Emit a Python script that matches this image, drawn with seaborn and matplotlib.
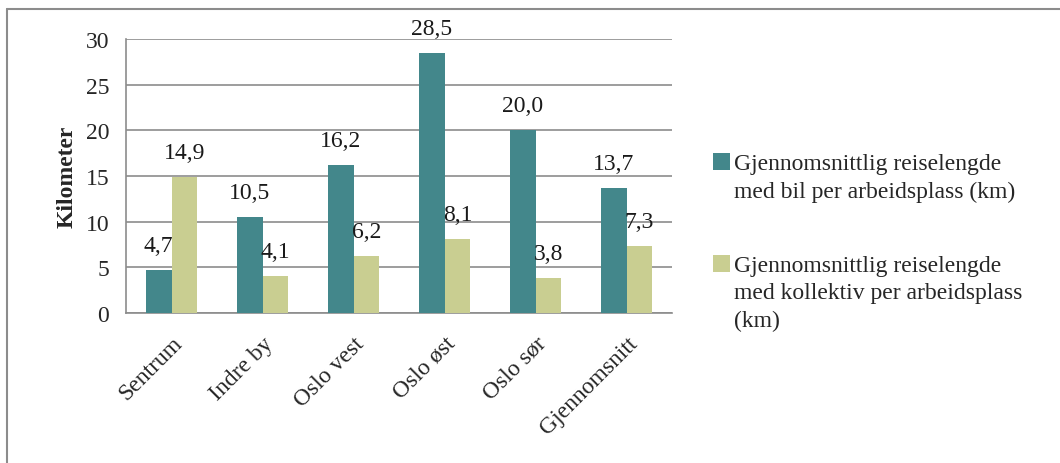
import pandas as pd
import matplotlib.pyplot as plt
import seaborn as sns
from matplotlib.lines import Line2D

categories = ['Sentrum', 'Indre by', 'Oslo vest', 'Oslo øst', 'Oslo sør', 'Gjennomsnitt']
bil = [4.7, 10.5, 16.2, 28.5, 20.0, 13.7]
kollektiv = [14.9, 4.1, 6.2, 8.1, 3.8, 7.3]
series = ['Gjennomsnittlig reiselengde\nmed bil per arbeidsplass (km)',
          'Gjennomsnittlig reiselengde\nmed kollektiv per arbeidsplass\n(km)']
colors = ['#43878B', '#C9CE91']

df = pd.DataFrame({
    'kategori': categories * 2,
    'km': bil + kollektiv,
    'serie': [series[0]] * len(bil) + [series[1]] * len(kollektiv),
})

sns.set_style('white')
plt.rcParams['font.family'] = ['Liberation Serif', 'DejaVu Serif']
grid_c = '#8C8C8C'
fs = 17

fig = plt.figure(figsize=(10.6, 4.64), dpi=100)
ax = fig.add_axes([126 / 1060, 1 - 314 / 464, 546 / 1060, 274 / 464])

sns.barplot(data=df, x='kategori', y='km', hue='serie', palette=colors,
            width=0.57, saturation=1, linewidth=0, ax=ax, zorder=3)

# value labels, comma as decimal sign
for cont in ax.containers:
    for bar in cont:
        h = bar.get_height()
        ax.annotate('{:.1f}'.format(h).replace('.', ','),
                    (bar.get_x() + bar.get_width() / 2, h),
                    xytext=(0, 10), textcoords='offset points',
                    ha='center', va='bottom', fontsize=fs, color='#1a1a1a', zorder=5)

ax.set_ylim(0, 30)
ax.set_xlim(-0.5, 5.5)
ax.set_yticks(range(0, 31, 5))
ax.yaxis.grid(True, color=grid_c, linewidth=1.2, zorder=0)
ax.set_axisbelow(True)
for s in ['top', 'right']:
    ax.spines[s].set_visible(False)
for s in ['left', 'bottom']:
    ax.spines[s].set_color(grid_c)
    ax.spines[s].set_linewidth(1.2)

# category ticks on the boundaries
ax.set_xticks([i - 0.5 for i in range(7)], minor=True)
ax.tick_params(axis='x', which='minor', length=6, color=grid_c, width=1.2)
ax.tick_params(axis='x', which='major', length=0, labelsize=fs, pad=14)
ax.tick_params(axis='y', length=6, color=grid_c, width=1.2, labelsize=fs, pad=6)
plt.setp(ax.get_xticklabels(), rotation=45, ha='right', rotation_mode='anchor')

ax.set_xlabel('')
ax.set_ylabel('Kilometer', fontsize=fs, fontweight='bold', labelpad=6)

handles, labels = ax.get_legend_handles_labels()
leg = ax.legend(handles, labels, loc='upper left', bbox_to_anchor=(713 / 1060, 1 - 154 / 464),
                bbox_transform=fig.transFigure, frameon=False, fontsize=fs,
                handlelength=0.72, handleheight=0.72, handletextpad=0.15, labelspacing=2.25,
                borderpad=0, borderaxespad=0)
for t in leg.get_texts():
    t.set_linespacing(1.4)
# put the square next to the first line of each label
for col in leg._legend_handle_box.get_children():
    for row in col.get_children():
        row.align = 'top'

# outer frame (top and left visible)
fig.add_artist(Line2D([7 / 1060, 7 / 1060], [0, 1 - 10 / 464], transform=fig.transFigure,
                      color=grid_c, linewidth=1.5))
fig.add_artist(Line2D([7 / 1060, 1], [1 - 10 / 464, 1 - 10 / 464], transform=fig.transFigure,
                      color=grid_c, linewidth=1.5))

plt.savefig('out.png', dpi=100)
